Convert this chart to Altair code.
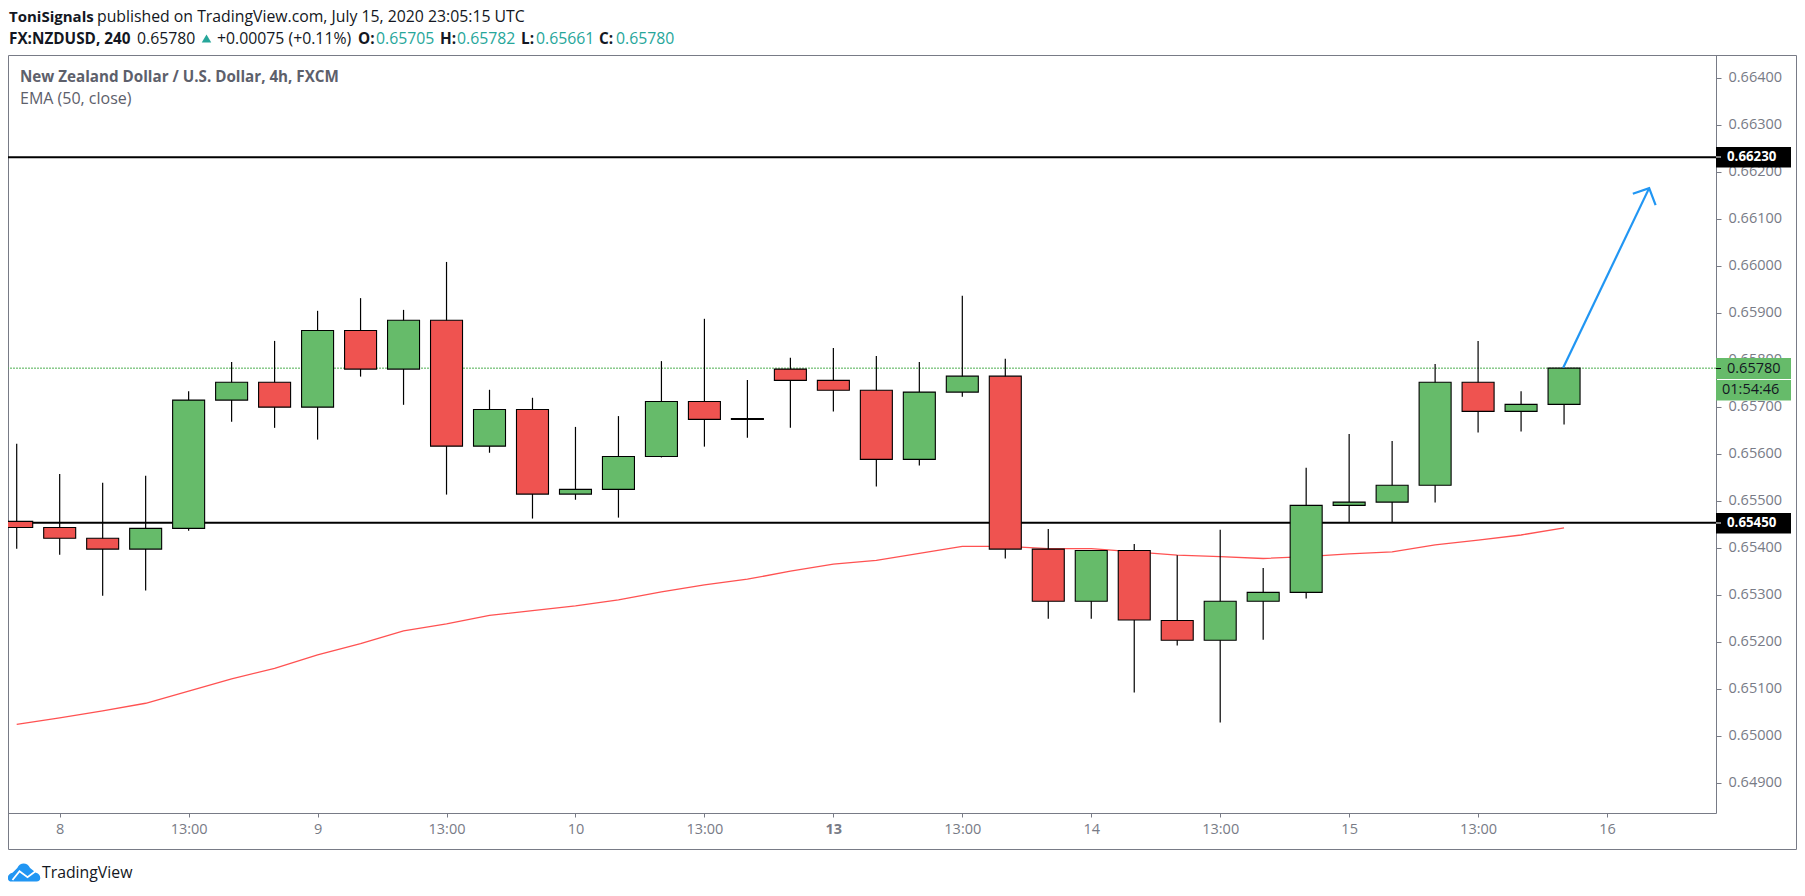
import altair as alt
import pandas as pd

# prices in units of 0.00001
opens = [65456,65443,65420,65397,65441,65714,65752,65699,65862,65780,65884,65616,65694,65514,65524,65594,65711,65675,65780,65756,65735,65588,65731,65765,65397,65286,65394,65245,65203,65286,65305,65490,65497,65533,65752,65690,65705]
highs = [65621,65557,65538,65553,65733,65795,65840,65904,65931,65906,66008,65736,65719,65657,65680,65797,65887,65757,65804,65825,65808,65795,65936,65802,65440,65394,65408,65384,65438,65357,65570,65642,65627,65791,65840,65733,65782]
lows = [65398,65385,65298,65309,65436,65668,65655,65630,65764,65704,65513,65602,65462,65502,65464,65592,65615,65634,65655,65690,65530,65575,65721,65377,65249,65249,65092,65192,65028,65204,65292,65453,65453,65496,65645,65647,65662]
closes = [65443,65420,65397,65441,65714,65752,65699,65862,65780,65884,65616,65694,65514,65524,65594,65711,65673,65673,65756,65735,65588,65731,65765,65397,65286,65394,65246,65203,65286,65305,65490,65497,65533,65752,65690,65705,65782]
ema = [65024,65038,65053,65069,65095,65121,65143,65172,65196,65223,65238,65256,65266,65276,65289,65306,65321,65333,65350,65365,65373,65388,65403,65403,65398,65398,65391,65384,65381,65377,65381,65387,65391,65406,65416,65427,65442]

x_tick_positions = [1, 4, 7, 10, 13, 16, 19, 22, 25, 28, 31, 34, 37]
x_tick_labels = ["8", "13:00", "9", "13:00", "10", "13:00", "13", "13:00", "14", "13:00", "15", "13:00", "16"]
y_ticks = [0.649, 0.650, 0.651, 0.652, 0.653, 0.654, 0.655, 0.656, 0.657, 0.658, 0.659, 0.660, 0.661, 0.662, 0.663, 0.664]

level_upper = 0.66231
level_lower = 0.65453
last_price = 0.65782

arrow_shaft_i = [35.98, 37.98]
arrow_shaft_p = [0.65783, 0.66165]
arrow_head_i = [37.60, 37.98, 38.13]
arrow_head_p = [0.66153, 0.66165, 0.66129]

FONT = "Open Sans"
GREEN, RED, BLUE, TEAL = "#66BB6A", "#EF5350", "#2196F3", "#26A69A"
GREY = "#787B86"

n = len(opens)
df = pd.DataFrame({
    "i": list(range(n)),
    "open": [v / 1e5 for v in opens],
    "high": [v / 1e5 for v in highs],
    "low": [v / 1e5 for v in lows],
    "close": [v / 1e5 for v in closes],
    "ema": [v / 1e5 for v in ema],
})
df["dir"] = ["up" if c >= o else "down" for o, c in zip(opens, closes)]

xs = alt.Scale(domain=[-0.2025, 39.535], nice=False, zero=False, padding=0)
ys = alt.Scale(domain=[0.648355, 0.664483], nice=False, zero=False)

label_array = "[" + ",".join(f"'{t}'" for t in x_tick_labels) + "]"
xaxis = alt.Axis(
    title=None, values=x_tick_positions, grid=False,
    labelExpr=f"{label_array}[(datum.value-1)/3]",
    labelFont=FONT, labelFontSize=14.5, labelColor=GREY, labelPadding=5,
    labelFontWeight={"condition": {"test": "datum.value == 19", "value": "bold"}, "value": "normal"},
    tickColor=GREY, tickSize=4, domainColor=GREY, labelFlush=False, labelOverlap=False,
)
yaxis = alt.Axis(
    title=None, values=y_ticks, orient="right", grid=False, format=".5f",
    labelFont=FONT, labelFontSize=14.5, labelColor=GREY, labelPadding=7,
    tickColor=GREY, tickSize=5, domainColor=GREY, labelOverlap=False,
)
X = alt.X("i:Q", scale=xs, axis=xaxis)
Y = lambda f: alt.Y(f"{f}:Q", scale=ys, axis=yaxis)

dummy = alt.Chart(pd.DataFrame({"a": [0]}))
OX, OY = 8, 55


def txt(s, x, y, size=14.5, color="#131722", weight="normal", align="left"):
    return dummy.mark_text(text=s, align=align, baseline="middle", font=FONT, fontSize=size,
                           fontWeight=weight, color=color).encode(
        x=alt.value(x - OX), y=alt.value(y - OY))


def hrule(x0, x1, y, color="#000000", w=1):
    return dummy.mark_rule(color=color, strokeWidth=w).encode(
        x=alt.value(x0 - OX), x2=alt.value(x1 - OX), y=alt.value(y - OY))


def box(x0, x1, y0, y1, color):
    return dummy.mark_rect(color=color).encode(
        x=alt.value(x0 - OX), x2=alt.value(x1 - OX), y=alt.value(y0 - OY), y2=alt.value(y1 - OY))


frame = dummy.mark_rect(fillOpacity=0, stroke=GREY, strokeWidth=1).encode(
    x=alt.value(0.5), x2=alt.value(1788.5), y=alt.value(0.5), y2=alt.value(794.5))

ema_line = alt.Chart(df).mark_line(color="#FF5252", strokeWidth=1.3, clip=True).encode(x=X, y=Y("ema"))
upper = dummy.mark_rule(color="#000000", strokeWidth=2).encode(y=alt.Y("v:Q", scale=ys, axis=yaxis)).transform_calculate(v=str(level_upper))
lower = dummy.mark_rule(color="#000000", strokeWidth=2).encode(y=alt.Y("v:Q", scale=ys, axis=yaxis)).transform_calculate(v=str(level_lower))
lastl = dummy.mark_rule(color="#4CAF50", strokeWidth=1, strokeDash=[2, 1]).encode(y=alt.Y("v:Q", scale=ys, axis=yaxis)).transform_calculate(v=str(last_price))

wicks = alt.Chart(df).mark_rule(color="#000000", strokeWidth=1.2, clip=True).encode(
    x=X, y=Y("low"), y2="high:Q")
bodies = alt.Chart(df).mark_bar(size=32, stroke="#000000", strokeWidth=1.1, clip=True).encode(
    x=X, y=Y("open"), y2="close:Q",
    color=alt.Color("dir:N", scale=alt.Scale(domain=["up", "down"], range=[GREEN, RED]), legend=None))

shaft = alt.Chart(pd.DataFrame({"i": arrow_shaft_i, "p": arrow_shaft_p})).mark_line(color=BLUE, strokeWidth=2.2).encode(x=X, y=Y("p"))
head = alt.Chart(pd.DataFrame({"i": arrow_head_i, "p": arrow_head_p})).mark_line(color=BLUE, strokeWidth=2.2).encode(
    x=X, y=Y("p"), order=alt.Order("i:Q"))

CLOUD = "M-0.78 0.6 C-1.1 0.6 -1.1 0.12 -0.72 0.05 L-0.42 -0.25 C-0.25 -0.62 0.2 -0.62 0.38 -0.25 L0.75 0.05 C1.1 0.15 1.1 0.6 0.78 0.6 Z"
STROKE = "M-0.72 0.5 L-0.28 -0.05 L0.22 0.32 L0.72 -0.05"
logo = dummy.mark_point(shape=CLOUD, size=1024, filled=True, color=BLUE, opacity=1).encode(
    x=alt.value(24 - OX), y=alt.value(872 - OY))
logo2 = dummy.mark_point(shape=STROKE, size=1024, filled=False, color="#FFFFFF", strokeWidth=1.8, opacity=1).encode(
    x=alt.value(24 - OX), y=alt.value(872 - OY))
tri = dummy.mark_point(shape="triangle-up", size=90, filled=True, color=TEAL, opacity=1).encode(
    x=alt.value(206.5 - OX), y=alt.value(38.5 - OY))

HS = 15.8
BS = 15.3
layers = [
    frame, ema_line, upper, lower, lastl, wicks, bodies, shaft, head,
    box(1716, 1791, 147, 167.5, "#000000"), hrule(1716, 1721, 157, "#FFFFFF"),
    txt("0.66230", 1727, 157, size=13.3, color="#FFFFFF", weight="bold"),
    box(1716, 1791, 513, 533.5, "#000000"), hrule(1716, 1721, 523, "#FFFFFF"),
    txt("0.65450", 1727, 523, size=13.3, color="#FFFFFF", weight="bold"),
    box(1716, 1791, 358, 379, GREEN), hrule(1716, 1721, 368.5, "#000000"),
    txt("0.65780", 1727, 368.5, color="#131722"),
    box(1716, 1791, 380, 400.5, GREEN),
    txt("01:54:46", 1722, 390, color="#131722"),
    txt("ToniSignals", 9, 17, size=15, weight="bold"),
    txt("published on TradingView.com, July 15, 2020 23:05:15 UTC", 97, 17, size=HS),
    txt("FX:NZDUSD, 240", 9, 39, size=BS, weight="bold"),
    txt("0.65780", 137, 39, size=HS),
    tri,
    txt("+0.00075 (+0.11%)", 217, 39, size=HS),
    txt("O:", 358, 39, size=BS, weight="bold"), txt("0.65705", 376, 39, size=HS, color=TEAL),
    txt("H:", 440, 39, size=BS, weight="bold"), txt("0.65782", 457, 39, size=HS, color=TEAL),
    txt("L:", 521, 39, size=BS, weight="bold"), txt("0.65661", 536, 39, size=HS, color=TEAL),
    txt("C:", 599, 39, size=BS, weight="bold"), txt("0.65780", 616, 39, size=HS, color=TEAL),
    txt("New Zealand Dollar / U.S. Dollar, 4h, FXCM", 20, 77, size=15.2, color="#5D606B", weight="bold"),
    txt("EMA (50, close)", 20, 99, size=16, color="#5D606B"),
    logo, logo2,
    txt("TradingView", 42, 873, size=HS),
]

chart = alt.layer(*layers).resolve_scale(color="independent").properties(
    width=1708, height=758,
    padding={"left": 0, "top": 47, "right": 81, "bottom": 70},
    autosize=alt.AutoSizeParams(type="none"),
    background="#FFFFFF",
).configure_view(stroke=None)

chart.save("out.html", embed_options={"renderer": "svg", "actions": False})
